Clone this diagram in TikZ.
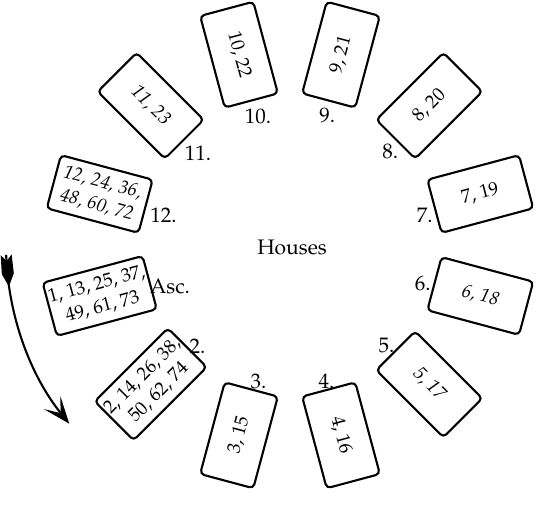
\documentclass[tikz,border=0pt]{standalone}
\usepackage[T1]{fontenc}
\usepackage{mathpazo}
\usetikzlibrary{arrows.meta}
\tikzset{
  house/.style={draw, line width=1pt, rounded corners=2pt, minimum width=45.2pt, minimum height=26.2pt, inner sep=1pt, align=center, font=\small},
  hlabel/.style={inner sep=0pt, font=\normalsize},
  dirarrow/.style={line width=1pt, arrows={-Stealth[length=13pt, width=10pt, inset=6.5pt]}},
}
\begin{document}
\begin{tikzpicture}[x=0.4762pt, y=0.4762pt]
\useasboundingbox (-290,-270) rectangle (251,245);
\node (houses) at (2,-2) {Houses};
% boxes
\node[house, rotate=15]  (h1)  at (195:197) {1, 13, 25, 37,\\49, 61, 73};
\node[house, rotate=45]  (h2)  at (225:197) {2, 14, 26, 38,\\50, 62, 74};
\node[house, rotate=75]  (h3)  at (255:197) {3, 15};
\node[house, rotate=-75] (h4)  at (285:197) {4, 16};
\node[house, rotate=-45, font=\small\itshape] (h5)  at (315:197) {5, 17};
\node[house, rotate=-15, font=\small\itshape] (h6)  at (345:197) {6, 18};
\node[house, rotate=15]  (h7)  at (15:197)  {7, 19};
\node[house, rotate=45]  (h8)  at (45:197)  {8, 20};
\node[house, rotate=75]  (h9)  at (75:197)  {9, 21};
\node[house, rotate=-75] (h10) at (105:197) {10, 22};
\node[house, rotate=-45, font=\small\itshape] (h11) at (135:197) {11, 23};
\node[house, rotate=-15, font=\small\itshape] (h12) at (165:197) {12, 24, 36,\\48, 60, 72};
% labels
\node[hlabel] (l1)  at (-161:127) {Asc.};
\node[hlabel] (l2)  at (-132.5:137) {2.};
\node[hlabel] (l3)  at (-103:140) {3.};
\node[hlabel] (l4)  at (-75:141) {4.};
\node[hlabel] (l5)  at (-46:139) {5.};
\node[hlabel] (l6)  at (-16:138) {6.};
\node[hlabel] (l7)  at (12.5:138) {7.};
\node[hlabel] (l8)  at (43:137) {8.};
\node[hlabel] (l9)  at (74:135) {9.};
\node[hlabel] (l10) at (104:132) {10.};
\node[hlabel] (l11) at (135:130) {11.};
\node[hlabel] (l12) at (166.7:130) {12.};
% direction arrow with fletched tail
\coordinate (arrS) at (182:284);
\draw[dirarrow] (arrS) arc[start angle=182, end angle=219, radius=284];
\fill[shift={(arrS)}, rotate=5] (-5.5,0) -- (0,-6) -- (5.5,0) -- (6,-19) -- (0.8,-30) -- (-0.8,-30) -- (-6,-19) -- cycle;
\end{tikzpicture}
\end{document}
